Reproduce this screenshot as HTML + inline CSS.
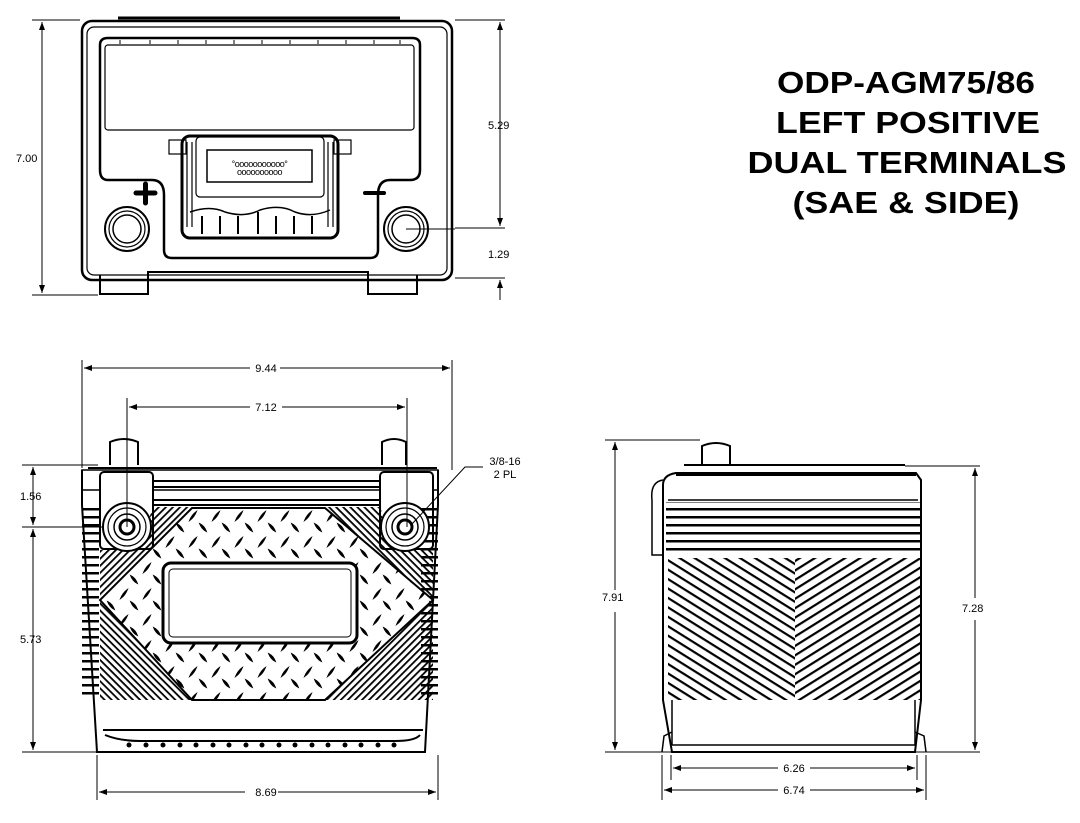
<!DOCTYPE html>
<html><head><meta charset="utf-8"><style>
html,body{margin:0;padding:0;background:#fff;}
svg{display:block;}
text{font-family:"Liberation Sans",Arial,sans-serif;}
</style></head><body>
<svg width="1080" height="823" viewBox="0 0 1080 823" xmlns="http://www.w3.org/2000/svg">
<defs>
<marker id="ar" markerWidth="8" markerHeight="6" refX="8" refY="3" orient="auto-start-reverse" markerUnits="userSpaceOnUse"><path d="M0,0 L8,3 L0,6 z" fill="#000"/></marker>
<pattern id="dia" width="23" height="26" patternUnits="userSpaceOnUse" x="186" y="509">
<path d="M4,11 Q6,6 10,3 Q8,8 4,11 z" fill="#000" stroke="#000" stroke-width="1.4"/>
<path d="M14,15 Q18,17 20,22 Q16,20 14,15 z" fill="#000" stroke="#000" stroke-width="1.4"/>
</pattern>
<pattern id="hatchL" width="5" height="5" patternUnits="userSpaceOnUse" patternTransform="rotate(45)">
<rect width="5" height="1.8" fill="#000"/></pattern>
<pattern id="hatchR" width="5" height="5" patternUnits="userSpaceOnUse" patternTransform="rotate(-45)">
<rect width="5" height="1.8" fill="#000"/></pattern>
<pattern id="fins" width="10" height="8" patternUnits="userSpaceOnUse" y="500">
<rect width="10" height="2.5" fill="#000"/></pattern>
<pattern id="chevL" width="8" height="8" patternUnits="userSpaceOnUse" patternTransform="rotate(32)">
<rect width="8" height="2.2" fill="#000"/></pattern>
<pattern id="chevR" width="8" height="8" patternUnits="userSpaceOnUse" patternTransform="rotate(-32)">
<rect width="8" height="2.2" fill="#000"/></pattern>
</defs>

<g fill="none" stroke="#000">
<path d="M118,18 L400,18" stroke-width="3"/>
<rect x="82" y="21" width="370" height="259" rx="10" stroke-width="2.5"/>
<rect x="87" y="27" width="360" height="248" rx="7" stroke-width="1.2"/>
<path d="M100,45 Q100,38 108,38 L412,38 Q420,38 420,45 L420,170 Q420,180 410,180 L390,180 Q378,180 378,195 L378,250 Q378,258 370,258 L172,258 Q164,258 164,250 L164,195 Q164,180 152,180 L108,180 Q100,180 100,170 Z" stroke-width="2.5"/>
<rect x="105" y="45" width="309" height="85" rx="3" stroke-width="1.2"/>
<path d="M120,40 v4 M150,40 v4 M178,40 v4 M206,40 v4 M234,40 v4 M262,40 v4 M290,40 v4 M318,40 v4 M346,40 v4 M374,40 v4 M400,40 v4" stroke-width="1"/>
<rect x="182" y="136" width="156" height="102" rx="8" stroke-width="3"/>
<rect x="196" y="137" width="128" height="60" rx="4" stroke-width="1.2"/>
<rect x="207" y="150" width="105" height="32" stroke-width="1.5"/>
<rect x="169" y="140" width="17" height="14" stroke-width="1.2"/>
<rect x="334" y="140" width="17" height="14" stroke-width="1.2"/>
<path d="M187,142 v85 M192,142 v85 M328,142 v85 M333,142 v85" stroke-width="1.2"/>
<path d="M190,212 Q210,205 225,212 Q245,218 260,210 Q280,204 295,212 Q312,218 330,210" stroke-width="1.5"/>
<path d="M202,216 v18 M220,216 v18 M238,216 v18 M258,212 v22 M276,216 v18 M294,216 v18 M312,216 v18" stroke-width="2"/>
<text x="259.5" y="167" font-size="9" fill="#000" stroke="none" text-anchor="middle" letter-spacing="-0.5">°ooooooooooo°</text>
<text x="259.5" y="175" font-size="9" fill="#000" stroke="none" text-anchor="middle" letter-spacing="-0.5">oooooooooo</text>
<circle cx="127" cy="229" r="22" stroke-width="2"/><circle cx="127" cy="229" r="18" stroke-width="1.2"/><circle cx="127" cy="229" r="14" stroke-width="1.5"/>
<circle cx="406" cy="229" r="22" stroke-width="2"/><circle cx="406" cy="229" r="18" stroke-width="1.2"/><circle cx="406" cy="229" r="14" stroke-width="1.5"/>
<path d="M136,193 h19 M145.5,184 v19" stroke-width="5" stroke-linecap="round"/>
<path d="M365,193 h19" stroke-width="4" stroke-linecap="round"/>
<path d="M100,275 v19 h48 v-14 M368,280 v14 h49 v-19 M148,280 L148,272 L368,272 L368,280" stroke-width="2"/>
<path d="M32,20 H80 M32,295 H98 M455,20 H505 M455,228 H505 M455,278 H505" stroke-width="1"/>
<path d="M42,22 V293" stroke-width="1" marker-start="url(#ar)" marker-end="url(#ar)"/>
<path d="M500,22 V226" stroke-width="1" marker-start="url(#ar)" marker-end="url(#ar)"/>
<path d="M500,280 V300" stroke-width="1" marker-start="url(#ar)"/>
<path d="M406,229 H455" stroke-width="1"/>

<path d="M110,465 V442 Q124,436 138,442 V465" stroke-width="2" fill="#fff"/>
<path d="M382,465 V442 Q394,436 406,442 V465" stroke-width="2" fill="#fff"/>
<path d="M88,468 L437,468" stroke-width="2"/>
<rect x="82" y="470" width="356" height="20" stroke-width="1.5"/>
<rect x="100" y="472" width="53" height="77" rx="4" stroke-width="2" fill="#fff"/>
<rect x="380" y="472" width="53" height="77" rx="4" stroke-width="2" fill="#fff"/>
<path d="M153,481 H380 M153,487 H380 M153,500 H380 M153,505 H380" stroke-width="2"/>
<path d="M82,470 V505 L97,752 H425 L438,505 V470" stroke-width="2"/>
<rect x="82" y="505" width="17" height="195" fill="url(#fins)" stroke="none"/>
<rect x="421" y="505" width="17" height="195" fill="url(#fins)" stroke="none"/>
<polygon points="153,507 192,507 100,600 100,550 140,545" fill="url(#hatchR)" stroke="none"/>
<polygon points="380,507 325,507 433,600 433,550 395,545" fill="url(#hatchL)" stroke="none"/>
<polygon points="100,600 100,700 192,700" fill="url(#hatchL)" stroke="none"/>
<polygon points="433,600 433,700 325,700" fill="url(#hatchR)" stroke="none"/>
<polygon points="192,508 325,508 433,600 325,700 192,700 100,600" fill="#fff" stroke="#000" stroke-width="2"/>
<polygon points="192,508 325,508 433,600 325,700 192,700 100,600" fill="url(#dia)" stroke="none"/>
<rect x="163" y="563" width="194" height="80" rx="8" fill="#fff" stroke-width="3"/>
<rect x="169" y="569" width="182" height="68" rx="4" stroke-width="1"/>
<circle cx="127" cy="527" r="24" stroke-width="2" fill="#fff"/><circle cx="127" cy="527" r="19" stroke-width="1.2"/><circle cx="127" cy="527" r="13" stroke-width="1.5"/><circle cx="127" cy="527" r="7" stroke-width="3"/>
<circle cx="405" cy="527" r="24" stroke-width="2" fill="#fff"/><circle cx="405" cy="527" r="19" stroke-width="1.2"/><circle cx="405" cy="527" r="13" stroke-width="1.5"/><circle cx="405" cy="527" r="7" stroke-width="3"/>
<path d="M103,730 H423 M105,735 Q120,741 140,741 H395 Q415,741 420,735" stroke-width="2"/>
<g fill="#000" stroke="none">
<circle cx="129" cy="745" r="2.5"/><circle cx="146" cy="745" r="2.5"/><circle cx="163" cy="745" r="2.5"/><circle cx="180" cy="745" r="2.5"/><circle cx="196" cy="745" r="2.5"/><circle cx="213" cy="745" r="2.5"/><circle cx="229" cy="745" r="2.5"/><circle cx="246" cy="745" r="2.5"/><circle cx="262" cy="745" r="2.5"/><circle cx="279" cy="745" r="2.5"/><circle cx="295" cy="745" r="2.5"/><circle cx="312" cy="745" r="2.5"/><circle cx="328" cy="745" r="2.5"/><circle cx="345" cy="745" r="2.5"/><circle cx="361" cy="745" r="2.5"/><circle cx="378" cy="745" r="2.5"/><circle cx="394" cy="745" r="2.5"/>
</g>
<path d="M82,360 V468 M452,360 V470 M127,398 V527 M407,398 V527" stroke-width="1"/>
<path d="M84,368 H250 M280,368 H450" stroke-width="1" marker-start="url(#ar)"/>
<path d="M450,368 H280" stroke-width="1" marker-start="url(#ar)"/>
<path d="M129,407 H250 M282,407 H405" stroke-width="1" marker-start="url(#ar)"/>
<path d="M405,407 H282" stroke-width="1" marker-start="url(#ar)"/>
<path d="M22,465 H98 M22,527 H104 M22,752 H97 M97,755 V800 M438,755 V800" stroke-width="1"/>
<path d="M33,467 V525" stroke-width="1" marker-start="url(#ar)" marker-end="url(#ar)"/>
<path d="M33,529 V750" stroke-width="1" marker-start="url(#ar)" marker-end="url(#ar)"/>
<path d="M99,792 H245 M278,792 H436" stroke-width="1" marker-start="url(#ar)"/>
<path d="M436,792 H278" stroke-width="1" marker-start="url(#ar)"/>
<path d="M483,467 H465 L412,524" stroke-width="1"/>

<path d="M702,465 V446 Q716,440 730,446 V465" stroke-width="2" fill="#fff"/>
<path d="M684,465 H905 M676,475 H916" stroke-width="2"/>
<path d="M663,485 Q663,475 676,473 L916,473 L921,480 L921,700 L915,752 H672 L663,700 Z" stroke-width="2"/>
<path d="M663,480 Q650,482 652,500 V555 L663,555" stroke-width="1.5"/>
<path d="M668,500 H918" stroke-width="1.5"/>
<rect x="666" y="502" width="254" height="52" fill="url(#fins)" stroke="none"/>
<rect x="668" y="558" width="127" height="142" fill="url(#chevL)" stroke="none"/>
<rect x="795" y="558" width="127" height="142" fill="url(#chevR)" stroke="none"/>
<path d="M672,700 V745 M915,700 V745 M672,745 H915" stroke-width="1.5"/>
<path d="M662,752 L664,736 L672,732 M926,752 L924,736 L915,732" stroke-width="1.5"/>
<path d="M605,440 H700 M605,752 H980 M905,466 H980 M671,755 V780 M917,755 V780 M662,755 V800 M926,755 V800" stroke-width="1"/>
<path d="M615,442 V590 M615,612 V750" stroke-width="1"/>
<path d="M615,452 V442" stroke-width="1" marker-end="url(#ar)"/>
<path d="M615,740 V750" stroke-width="1" marker-end="url(#ar)"/>
<path d="M975,468 V598 M975,620 V750" stroke-width="1"/>
<path d="M975,478 V468" stroke-width="1" marker-end="url(#ar)"/>
<path d="M975,740 V750" stroke-width="1" marker-end="url(#ar)"/>
<path d="M673,768 H778 M810,768 H915" stroke-width="1" marker-start="url(#ar)"/>
<path d="M915,768 H810" stroke-width="1" marker-start="url(#ar)"/>
<path d="M664,790 H778 M810,790 H924" stroke-width="1" marker-start="url(#ar)"/>
<path d="M924,790 H810" stroke-width="1" marker-start="url(#ar)"/>
</g>

<g fill="#000" font-size="11">
<text x="16" y="162">7.00</text>
<text x="488" y="129">5.29</text>
<text x="488" y="258">1.29</text>
<text x="266" y="372" text-anchor="middle">9.44</text>
<text x="266" y="411" text-anchor="middle">7.12</text>
<text x="20" y="500">1.56</text>
<text x="20" y="643">5.73</text>
<text x="266" y="796" text-anchor="middle">8.69</text>
<text x="505" y="465" text-anchor="middle">3/8-16</text>
<text x="505" y="478" text-anchor="middle">2 PL</text>
<text x="602" y="601">7.91</text>
<text x="962" y="612">7.28</text>
<text x="794" y="772" text-anchor="middle">6.26</text>
<text x="794" y="794" text-anchor="middle">6.74</text>
</g>
<g fill="#000" font-size="31" font-weight="bold" text-anchor="middle">
<text x="906" y="93" textLength="258" lengthAdjust="spacingAndGlyphs">ODP-AGM75/86</text>
<text x="908" y="133" textLength="264" lengthAdjust="spacingAndGlyphs">LEFT POSITIVE</text>
<text x="907" y="173" textLength="319" lengthAdjust="spacingAndGlyphs">DUAL TERMINALS</text>
<text x="906" y="213" textLength="227" lengthAdjust="spacingAndGlyphs">(SAE &amp; SIDE)</text>
</g>
</svg>
</body></html>
